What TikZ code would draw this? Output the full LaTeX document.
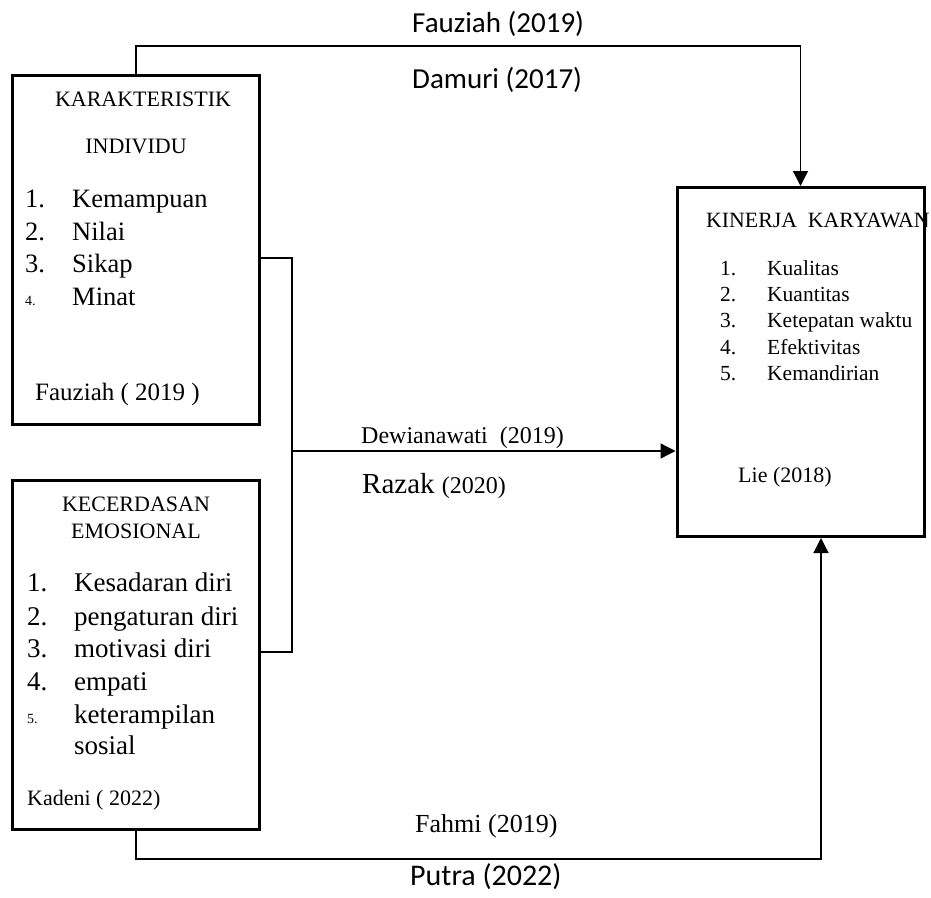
\documentclass[tikz,border=0pt]{standalone}
\usepackage{fontspec}
\setmainfont{Liberation Serif}
\newfontfamily\calibri{Carlito}
\usetikzlibrary{arrows.meta}

\begin{document}
\begin{tikzpicture}[x=1pt, y=-1pt,
  box/.style={draw, line width=3pt, minimum width=247pt, minimum height=349pt, inner sep=0pt},
  wire/.style={line width=1.3pt},
  conn/.style={line width=1.3pt, -{Triangle[length=15pt,width=15pt]}},
  head/.style={inner sep=0pt, anchor=base, font=\fontsize{22}{22}\selectfont},
  item/.style={inner sep=0pt, anchor=base west, font=\fontsize{26.5}{26.5}\selectfont},
  small/.style={inner sep=0pt, anchor=base west, font=\fontsize{21.5}{21.5}\selectfont},
  tiny/.style={inner sep=0pt, anchor=base west, font=\fontsize{14}{14}\selectfont},
  cite/.style={inner sep=0pt, anchor=base west, font=\calibri\fontsize{29}{29}\selectfont}]
  \useasboundingbox (0,0) rectangle (931,897);

  % the three boxes
  \node[box] (indiv) at (136,249.5) {};
  \node[box] (emosi) at (136,655) {};
  \node[box] (kinerja) at (800.5,362) {};

  % karakteristik individu
  \node[head] (indivA) at (143,106) {KARAKTERISTIK};
  \node[head] (indivB) at (136,153) {INDIVIDU};
  \foreach \n/\t/\y in {1/Kemampuan/207, 2/Nilai/240, 3/Sikap/272} {
    \node[item] (inum\n) at (25,\y) {\n.};
    \node[item] (itxt\n) at (72,\y) {\t};
  }
  \node[tiny] (inum4) at (25,305) {4.};
  \node[item] (itxt4) at (72,305) {Minat};
  \node[item, font=\fontsize{25}{25}\selectfont] (isrc) at (35,400) {Fauziah ( 2019 )};

  % kecerdasan emosional
  \node[head] (emosiA) at (136,511) {KECERDASAN};
  \node[head] (emosiB) at (136,538) {EMOSIONAL};
  \foreach \n/\t/\y in {1/Kesadaran diri/591, 2/pengaturan diri/625, 3/motivasi diri/657, 4/empati/690} {
    \node[item, font=\fontsize{27}{27}\selectfont] (enum\n) at (27,\y) {\n.};
    \node[item, font=\fontsize{27}{27}\selectfont] (etxt\n) at (74,\y) {\t};
  }
  \node[tiny] (enum5) at (27,723) {5.};
  \node[item, font=\fontsize{27}{27}\selectfont] (etxt5) at (74,723) {keterampilan};
  \node[item, font=\fontsize{27}{27}\selectfont] (etxt6) at (74,754) {sosial};
  \node[small, font=\fontsize{22}{22}\selectfont] (esrc) at (27,805) {Kadeni ( 2022)};

  % kinerja karyawan
  \node[small, font=\fontsize{21.8}{21.8}\selectfont] (kinA) at (706,227) {KINERJA\ \ KARYAWAN};
  \foreach \n/\t/\y in {1/Kualitas/275, 2/Kuantitas/301, 3/Ketepatan waktu/327, 4/Efektivitas/354, 5/Kemandirian/380} {
    \node[small] (knum\n) at (720,\y) {\n.};
    \node[small] (ktxt\n) at (767,\y) {\t};
  }
  \node[small, font=\fontsize{22}{22}\selectfont] (ksrc) at (738,482) {Lie (2018)};

  % connectors
  \coordinate (topbend) at (800.5,46);
  \coordinate (jtop) at (292,258);
  \coordinate (jbot) at (292,652);
  \coordinate (jmid) at (292,451);
  \coordinate (botbend) at (821,859);
  \draw[conn] (indiv.north) |- (topbend) -- (kinerja.north);
  \draw[wire] (indiv.east |- jtop) -- (jtop) -- (jbot) -- (emosi.east |- jbot);
  \draw[conn] (jmid) -- (kinerja.west |- jmid);
  \draw[conn] (emosi.south) |- (botbend) -- (kinerja.south -| botbend);

  % sources on the connectors
  \node[cite] (srcA) at (412,32) {Fauziah (2019)};
  \node[cite] (srcB) at (412,88) {Damuri (2017)};
  \node[item, font=\fontsize{24}{24}\selectfont] (srcC) at (361,443) {Dewianawati\ \ (2019)};
  \node[item, font=\fontsize{29}{29}\selectfont] (srcD) at (362,493) {Razak {\fontsize{24}{24}\selectfont(2020)}};
  \node[item, font=\fontsize{26}{26}\selectfont] (srcE) at (415,832) {Fahmi (2019)};
  \node[cite, font=\calibri\fontsize{30}{30}\selectfont] (srcF) at (410,885) {Putra (2022)};
\end{tikzpicture}
\end{document}
